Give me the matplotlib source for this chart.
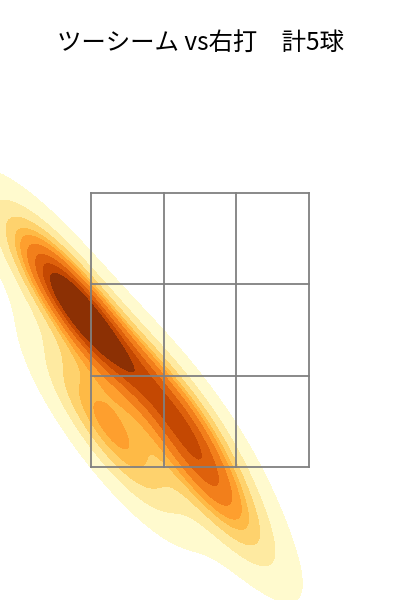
import matplotlib
matplotlib.use("Agg")
import matplotlib.pyplot as plt
import seaborn as sns
import numpy as np

plt.rcParams['font.family'] = ['Noto Sans CJK JP', 'DejaVu Sans']

title = "ツーシーム vs右打　計5球"
plate_x = [-1.00, -0.85, -0.15, 0.07, -0.68]
plate_z = [2.74, 2.60, 1.92, 1.37, 1.77]

zone_left, zone_right = -0.8175, 0.8175
zone_bottom, zone_top = 1.5, 3.5

fig = plt.figure(figsize=(4, 6), dpi=100)
ax = fig.add_axes([0, 0, 1, 1])
sns.kdeplot(x=plate_x, y=plate_z, fill=True, cmap="YlOrBr", ax=ax)

xs = np.linspace(zone_left, zone_right, 4)
zs = np.linspace(zone_bottom, zone_top, 4)
for xv in xs:
    ax.plot([xv, xv], [zone_bottom, zone_top], color="#808080", lw=1.3)
for zv in zs:
    ax.plot([zone_left, zone_right], [zv, zv], color="#808080", lw=1.3)

ax.set_xlim(-1.5, 1.5)
ax.set_ylim(1.5 - 133 / 137, 1.5 + 467 / 137)
ax.axis("off")
fig.text(0.5, 1 - 43 / 600, title, ha="center", va="center", fontsize=17.6)
fig.savefig("out.png", dpi=100)
